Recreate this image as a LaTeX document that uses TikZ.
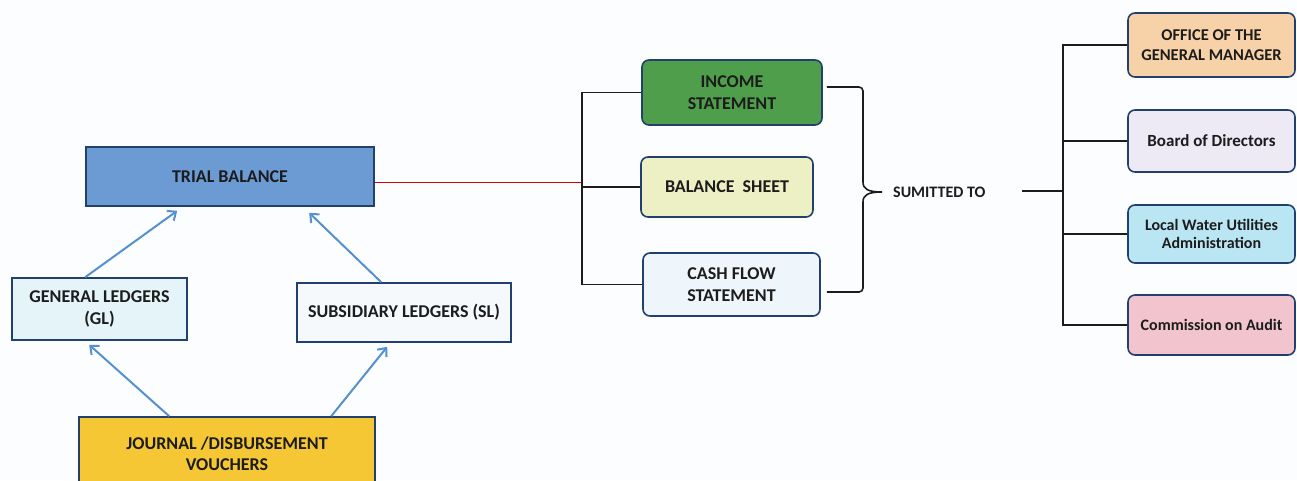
\documentclass[tikz,border=0pt]{standalone}
\usepackage{fontspec}
\setmainfont{Carlito}
\usetikzlibrary{arrows.meta,calc}

\definecolor{paper}{HTML}{FCFDFE}
\definecolor{edge}{HTML}{22406E}
\definecolor{flow}{HTML}{5590CF}
\definecolor{ink}{HTML}{1C1C1C}
\definecolor{tbfill}{HTML}{6C9BD4}
\definecolor{glfill}{HTML}{E4F4F8}
\definecolor{slfill}{HTML}{F5F9FC}
\definecolor{jvfill}{HTML}{F5C734}
\definecolor{incfill}{HTML}{4E9E4C}
\definecolor{bsfill}{HTML}{EDEFC4}
\definecolor{cffill}{HTML}{EEF5FB}
\definecolor{ogmfill}{HTML}{F7D2A8}
\definecolor{bodfill}{HTML}{EDEAF6}
\definecolor{lwuafill}{HTML}{BAE6F4}
\definecolor{coafill}{HTML}{F2C4CE}

\tikzset{
  lbl/.style={font=\fontsize{18}{22}\selectfont\bfseries, text=ink, align=center, inner sep=0pt},
  sqbox/.style={lbl, draw=edge, line width=1.6pt, rectangle},
  rbox/.style={sqbox, rounded corners=7pt},
  feed/.style={draw=flow, line width=2pt, -{Straight Barb[length=7pt,width=12pt,line width=2pt]}},
  wire/.style={draw=ink, line width=1.6pt},
}

\begin{document}
\begin{tikzpicture}[x=1pt,y=-1pt]
  \fill[paper] (0,0) rectangle (1297,480);
  \useasboundingbox (0,0) rectangle (1297,480);
  \clip (0,0) rectangle (1297,480);

  % ledger side
  \node[sqbox, fill=tbfill, minimum width=288pt, minimum height=59pt] (tb) at (230,176.5) {TRIAL BALANCE};
  \node[sqbox, fill=glfill, minimum width=175pt, minimum height=62pt] (gl) at (99.5,309) {GENERAL LEDGERS\\(GL)};
  \node[sqbox, fill=slfill, minimum width=214pt, minimum height=59pt] (sl) at (404,312.5) {SUBSIDIARY LEDGERS (SL)};
  \node[sqbox, fill=jvfill, minimum width=296pt, minimum height=73pt, font=\fontsize{18}{21}\selectfont\bfseries] (jv) at (227,453.5) {JOURNAL /DISBURSEMENT\\VOUCHERS};

  \draw[feed] ($(gl.north west)+(74,0)$) -- ($(tb.south west)+(92,4)$);
  \draw[feed] ($(sl.north west)+(85,0)$) -- ($(tb.south west)+(224,6)$);
  \draw[feed] ($(jv.north west)+(91,0)$) -- ($(gl.south west)+(78,4)$);
  \draw[feed] ($(jv.north west)+(253,0)$) -- ($(sl.south west)+(91,4)$);

  % financial statements
  \node[rbox, fill=incfill, minimum width=180pt, minimum height=65pt] (inc) at (732,92.5) {INCOME\\STATEMENT};
  \node[rbox, fill=bsfill, minimum width=172pt, minimum height=60pt] (bs) at (727,187) {BALANCE\ \ SHEET};
  \node[rbox, fill=cffill, minimum width=177pt, minimum height=63pt] (cf) at (731.5,284.5) {CASH FLOW\\STATEMENT};

  \coordinate (lx) at (582,0);
  \coordinate (tbout) at ($(tb.east)+(0,6)$);
  \draw[red!85!black, line width=1.6pt] (tbout) -- (lx |- tbout);
  \draw[wire] (inc.west) -| (lx |- cf.west) -- (cf.west);
  \draw[wire] (bs.west) -- (lx |- bs.west);

  % brace gathering the statements
  \coordinate (bt) at (863,87);
  \coordinate (bb) at (863,292);
  \coordinate (tip) at (882,192);
  \draw[wire, rounded corners=4pt] ($(inc.east)+(4,-5.5)$) -- (bt) -- (863,182);
  \draw[wire] (863,182) .. controls (863,189) and (868,192) .. (tip);
  \draw[wire] (tip) .. controls (868,192) and (863,195) .. (863,202);
  \draw[wire, rounded corners=4pt] (863,202) -- (bb) -- ($(cf.east)+(6,7.5)$);

  \node[lbl, font=\fontsize{16}{19}\selectfont\bfseries, anchor=west] (st) at (893,192) {SUMITTED TO};

  % recipients
  \node[rbox, fill=ogmfill, minimum width=167pt, minimum height=64pt, font=\fontsize{16.5}{20}\selectfont\bfseries] (ogm) at (1211.5,45) {OFFICE OF THE\\GENERAL MANAGER};
  \node[rbox, fill=bodfill, minimum width=167pt, minimum height=62pt, font=\fontsize{17}{20}\selectfont\bfseries] (bod) at (1211.5,141) {Board of Directors};
  \node[rbox, fill=lwuafill, minimum width=167pt, minimum height=58pt, font=\fontsize{16}{17.5}\selectfont\bfseries] (lwua) at (1211.5,234) {Local Water Utilities\\Administration};
  \node[rbox, fill=coafill, minimum width=167pt, minimum height=60pt, font=\fontsize{16}{19}\selectfont\bfseries] (coa) at (1211.5,325) {Commission on Audit};

  \coordinate (rs) at (1022,191);
  \coordinate (rx) at (1063,0);
  \draw[wire] (rs) -- (rx |- rs);
  \draw[wire] (ogm.west) -| (rx |- coa.west) -- (coa.west);
  \draw[wire] (bod.west) -- (rx |- bod.west);
  \draw[wire] (lwua.west) -- (rx |- lwua.west);
\end{tikzpicture}
\end{document}
